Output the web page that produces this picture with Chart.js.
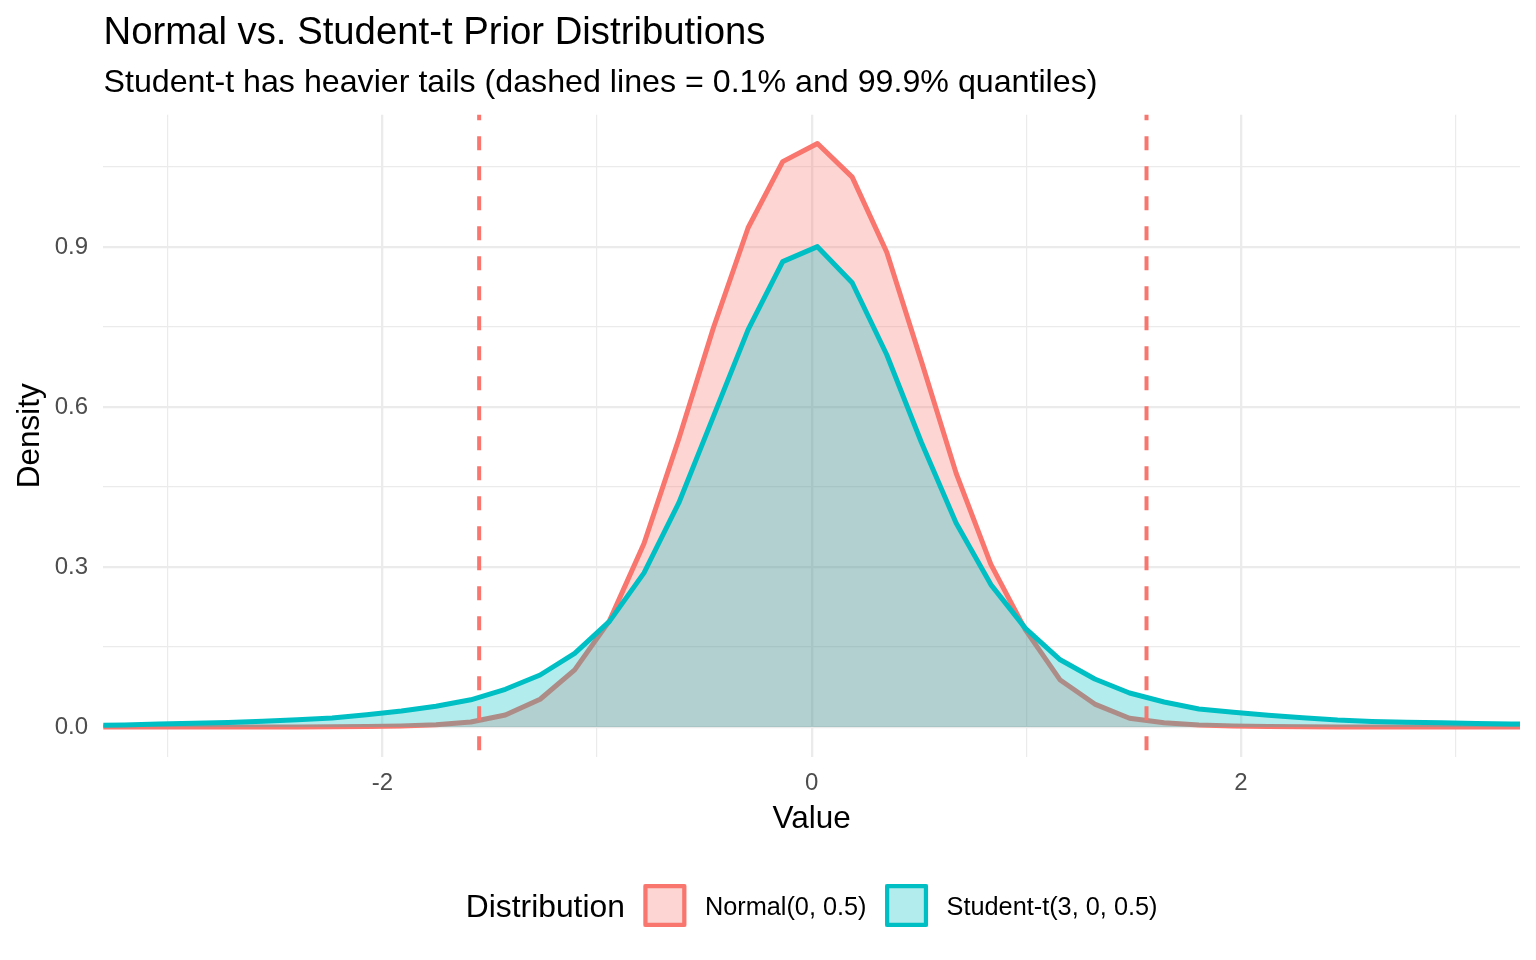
<!DOCTYPE html>
<html>
<head>
<meta charset="utf-8">
<script src="https://cdn.jsdelivr.net/npm/chart.js@4.4.1/dist/chart.umd.min.js"></script>
<style>
  html, body { margin: 0; padding: 0; background: #ffffff; }
  canvas { display: block; }
</style>
</head>
<body>
<canvas id="chart" width="1536" height="960"></canvas>
<script>
// ---------------- data ----------------
const xValues = [
  -3.365, -3.203, -3.042, -2.880, -2.719, -2.557, -2.396, -2.234, -2.073, -1.911,
  -1.750, -1.588, -1.427, -1.265, -1.104, -0.942, -0.781, -0.619, -0.458, -0.296,
  -0.135, 0.027, 0.189, 0.350, 0.512, 0.673, 0.835, 0.996, 1.158, 1.319,
  1.481, 1.642, 1.804, 1.965, 2.127, 2.288, 2.450, 2.611, 2.773, 2.934,
  3.096, 3.257, 3.419
];
const normalDensity = [
  0, 0, 0, 0, 0, 0.0001, 0.0002, 0.0004, 0.0008, 0.0017,
  0.004, 0.0095, 0.0225, 0.052, 0.107, 0.199, 0.344, 0.540, 0.748, 0.936,
  1.060, 1.094, 1.031, 0.890, 0.685, 0.476, 0.305, 0.182, 0.088, 0.043,
  0.0165, 0.008, 0.0037, 0.0017, 0.0008, 0.0004, 0.0002, 0.0001, 0, 0,
  0, 0, 0
];
const studentDensity = [
  0.003, 0.0038, 0.0055, 0.007, 0.0085, 0.011, 0.0135, 0.017, 0.023, 0.030,
  0.039, 0.051, 0.0707, 0.0975, 0.138, 0.198, 0.289, 0.420, 0.582, 0.745,
  0.8725, 0.9006, 0.833, 0.698, 0.533, 0.3825, 0.267, 0.185, 0.126, 0.090,
  0.0638, 0.0469, 0.0338, 0.0275, 0.022, 0.0174, 0.013, 0.0105, 0.009, 0.008,
  0.0066, 0.0058, 0.0055
];
const quantileLines = [-1.549, 1.560];
const seriesNames = ["Normal(0, 0.5)", "Student-t(3, 0, 0.5)"];
const xTickValues = [-3, -2, -1, 0, 1, 2, 3];
const xTickLabels = ["", "-2", "", "0", "", "2", ""];
const yTickValues = [0, 0.15, 0.3, 0.45, 0.6, 0.75, 0.9, 1.05];
const yTickLabels = ["0.0", "", "0.3", "", "0.6", "", "0.9", ""];
const titleText = "Normal vs. Student-t Prior Distributions";
const subtitleText = "Student-t has heavier tails (dashed lines = 0.1% and 99.9% quantiles)";
const xTitle = "Value";
const yTitle = "Density";
const legendTitle = "Distribution";

// ---------------- styles ----------------
const FONT = "'Liberation Sans', Arial, Helvetica, sans-serif";
const colors = ["#F8766D", "#00BFC4"];
const fills = ["rgba(248,118,109,0.3)", "rgba(0,191,196,0.3)"];
const GRID = "#EBEBEB";

Chart.defaults.font.family = FONT;

function isLabelled(labels, values, v) {
  const i = values.findIndex(t => Math.abs(t - v) < 1e-9);
  return i >= 0 && labels[i] !== "";
}

const textPlugin = {
  id: "textPlugin",
  afterDraw(chart) {
    const ctx = chart.ctx;
    const area = chart.chartArea;
    ctx.save();
    ctx.fillStyle = "#000000";
    ctx.textBaseline = "alphabetic";
    ctx.textAlign = "left";
    // title & subtitle
    ctx.font = "38.3px " + FONT;
    ctx.fillText(titleText, 103.5, 44);
    ctx.font = "32.2px " + FONT;
    ctx.fillText(subtitleText, 103.5, 92);
    // axis titles
    ctx.font = "31.5px " + FONT;
    ctx.textAlign = "center";
    ctx.fillText(xTitle, (area.left + area.right) / 2, 828);
    ctx.save();
    ctx.translate(39, (area.top + area.bottom) / 2);
    ctx.rotate(-Math.PI / 2);
    ctx.fillText(yTitle, 0, 0);
    ctx.restore();
    // legend
    ctx.textAlign = "left";
    const titleFont = "31.8px " + FONT;
    const labelFont = "25.3px " + FONT;
    ctx.font = titleFont;
    const wTitle = ctx.measureText(legendTitle).width;
    ctx.font = labelFont;
    const wLabels = seriesNames.map(s => ctx.measureText(s).width);
    const box = 43, gap = 18.5;
    const total = wTitle + 4 * gap + 2 * box + wLabels[0] + wLabels[1];
    let x = (area.left + area.right) / 2 - total / 2;
    ctx.font = titleFont;
    ctx.fillText(legendTitle, x, 917);
    x += wTitle + gap;
    for (let i = 0; i < seriesNames.length; i++) {
      ctx.fillStyle = "#ffffff";
      ctx.fillRect(x, 884, box, box);
      ctx.fillStyle = fills[i];
      ctx.fillRect(x, 884, box, box);
      ctx.strokeStyle = colors[i];
      ctx.lineWidth = 4.2;
      ctx.lineJoin = "round";
      ctx.strokeRect(x + 2.1, 886.1, box - 4.2, box - 4.2);
      x += box + gap;
      ctx.fillStyle = "#000000";
      ctx.font = labelFont;
      ctx.fillText(seriesNames[i], x, 914.5);
      x += wLabels[i] + gap;
    }
    ctx.restore();
  }
};

const ctx = document.getElementById("chart").getContext("2d");
new Chart(ctx, {
  type: "line",
  data: {
    datasets: [
      {
        label: seriesNames[0],
        data: xValues.map((x, i) => ({ x: x, y: normalDensity[i] })),
        borderColor: colors[0],
        backgroundColor: fills[0],
        fill: "origin",
        borderWidth: 5,
        borderJoinStyle: "round",
        pointRadius: 0,
        tension: 0,
        order: 2
      },
      {
        label: seriesNames[1],
        data: xValues.map((x, i) => ({ x: x, y: studentDensity[i] })),
        borderColor: colors[1],
        backgroundColor: fills[1],
        fill: "origin",
        borderWidth: 5,
        borderJoinStyle: "round",
        pointRadius: 0,
        tension: 0,
        order: 1
      },
      ...quantileLines.map(q => ({
        label: "quantile " + q,
        data: [{ x: q, y: -1 }, { x: q, y: 2 }],
        borderColor: colors[0],
        borderWidth: 4,
        borderDash: [14, 16],
        pointRadius: 0,
        fill: false,
        order: 0
      }))
    ]
  },
  options: {
    responsive: false,
    animation: false,
    devicePixelRatio: 1,
    layout: { padding: { top: 114.7, right: 16, bottom: 143.4, left: 0 } },
    plugins: {
      legend: { display: false },
      tooltip: { enabled: false },
      title: { display: false }
    },
    scales: {
      x: {
        type: "linear",
        min: -3.3,
        max: 3.3,
        afterBuildTicks: s => { s.ticks = xTickValues.map(v => ({ value: v })); },
        afterFit: s => { s.height = 60; },
        border: { display: false },
        grid: {
          color: GRID,
          drawTicks: false,
          lineWidth: c => (c.tick && isLabelled(xTickLabels, xTickValues, c.tick.value)) ? 2.3 : 1.2
        },
        ticks: {
          autoSkip: false,
          maxRotation: 0,
          padding: 12.5,
          color: "#4D4D4D",
          font: { size: 24 },
          callback: v => {
            const i = xTickValues.findIndex(t => Math.abs(t - v) < 1e-9);
            return i >= 0 ? xTickLabels[i] : "";
          }
        }
      },
      y: {
        type: "linear",
        min: -0.0555,
        max: 1.148,
        afterBuildTicks: s => { s.ticks = yTickValues.map(v => ({ value: v })); },
        afterFit: s => { s.width = 103.3; },
        border: { display: false },
        grid: {
          color: GRID,
          drawTicks: false,
          lineWidth: c => (c.tick && isLabelled(yTickLabels, yTickValues, c.tick.value)) ? 2.3 : 1.2
        },
        ticks: {
          autoSkip: false,
          padding: 15.3,
          color: "#4D4D4D",
          font: { size: 24 },
          callback: v => {
            const i = yTickValues.findIndex(t => Math.abs(t - v) < 1e-9);
            return i >= 0 ? yTickLabels[i] : "";
          }
        }
      }
    }
  },
  plugins: [textPlugin]
});
</script>
</body>
</html>
